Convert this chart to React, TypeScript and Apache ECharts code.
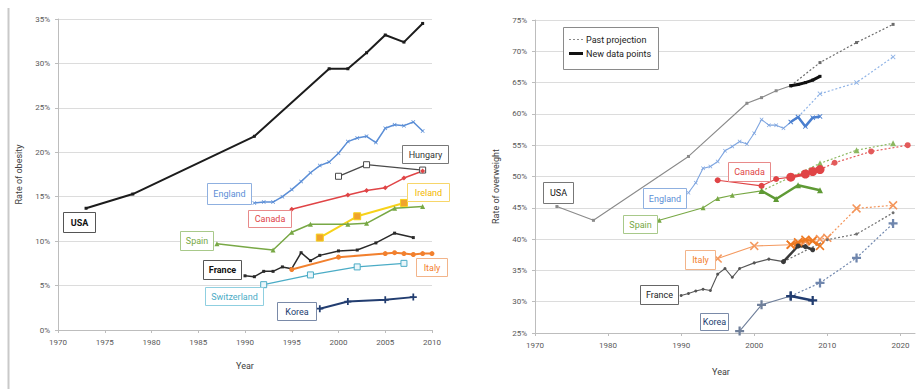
import React, { useEffect, useRef } from "react";
import * as echarts from "echarts";

// ---- Rate of obesity (left panel), [year, %] ----
const usaObesity = [[1973, 13.7], [1978, 15.3], [1991, 21.8], [1999, 29.4], [2001, 29.4], [2003, 31.2], [2005, 33.2], [2007, 32.4], [2009, 34.5]];
const englandObesity = [[1991, 14.3], [1992, 14.4], [1993, 14.4], [1994, 15.0], [1995, 15.8], [1996, 16.7], [1997, 17.7], [1998, 18.5], [1999, 18.9], [2000, 19.9], [2001, 21.2], [2002, 21.6], [2003, 21.8], [2004, 21.1], [2005, 22.7], [2006, 23.1], [2007, 23.0], [2008, 23.4], [2009, 22.4]];
const hungaryObesity = [[2000, 17.3], [2003, 18.6], [2009, 18.0]];
const canadaObesity = [[1995, 13.6], [2001, 15.2], [2003, 15.7], [2005, 16.0], [2007, 17.1], [2009, 17.9]];
const irelandObesity = [[1998, 10.4], [2002, 12.8], [2007, 14.3]];
const spainObesity = [[1987, 9.7], [1993, 9.0], [1995, 11.0], [1997, 11.9], [2001, 11.9], [2003, 12.0], [2006, 13.7], [2009, 13.9]];
const franceObesity = [[1990, 6.1], [1991, 6.0], [1992, 6.6], [1993, 6.6], [1994, 7.1], [1995, 6.9], [1996, 8.7], [1997, 7.8], [1998, 8.4], [2000, 8.9], [2002, 9.0], [2004, 9.8], [2006, 10.9], [2008, 10.4]];
const italyObesity = [[1995, 6.8], [2000, 8.2], [2005, 8.6], [2006, 8.7], [2007, 8.6], [2008, 8.5], [2009, 8.6], [2010, 8.6]];
const switzerlandObesity = [[1992, 5.1], [1997, 6.2], [2002, 7.1], [2007, 7.5]];
const koreaObesity = [[1998, 2.4], [2001, 3.2], [2005, 3.4], [2008, 3.7]];

// ---- Rate of overweight (right panel): history, new data points, past projection ----
const usaOverweight = [[1973, 45.2], [1978, 43.0], [1991, 53.2], [1999, 61.7], [2001, 62.6], [2003, 63.7], [2005, 64.5]];
const usaOverweightNew = [[2005, 64.5], [2006, 64.7], [2007, 65.0], [2008, 65.4], [2009, 66.0]];
const usaOverweightProj = [[2005, 64.5], [2009, 68.2], [2014, 71.4], [2019, 74.3]];

const englandOverweight = [[1991, 47.4], [1992, 49.0], [1993, 51.3], [1994, 51.6], [1995, 52.4], [1996, 54.1], [1997, 54.8], [1998, 55.6], [1999, 55.2], [2000, 56.9], [2001, 59.1], [2002, 58.2], [2003, 58.2], [2004, 57.7], [2005, 58.7]];
const englandOverweightNew = [[2005, 58.7], [2006, 59.5], [2007, 58.0], [2008, 59.4], [2009, 59.6]];
const englandOverweightProj = [[2006, 59.5], [2009, 63.2], [2014, 65.0], [2019, 69.1]];

const canadaOverweight = [[1995, 49.4], [2001, 48.5], [2003, 49.6], [2005, 49.9]];
const canadaOverweightNew = [[2005, 49.9], [2007, 50.4], [2008, 50.8], [2009, 51.1]];
const canadaOverweightProj = [[2009, 51.1], [2011, 52.2], [2016, 54.0], [2021, 55.0]];

const spainOverweight = [[1987, 43.0], [1993, 45.0], [1995, 46.5], [1997, 47.0], [2001, 47.7]];
const spainOverweightNew = [[2001, 47.7], [2003, 46.4], [2006, 48.6], [2009, 47.8]];
const spainOverweightProj = [[2001, 47.7], [2009, 52.1], [2014, 54.2], [2019, 55.3]];

const italyOverweight = [[1995, 36.9], [2000, 38.9], [2005, 39.1]];
const italyOverweightNew = [[2005, 39.1], [2006, 39.5], [2007, 39.9], [2008, 39.7], [2009, 38.9]];
const italyOverweightProj = [[2005, 39.1], [2006, 39.3], [2007, 39.6], [2008, 39.8], [2009, 40.0], [2010, 40.2], [2014, 44.9], [2019, 45.4]];

const franceOverweight = [[1990, 31.0], [1991, 31.3], [1992, 31.7], [1993, 32.0], [1994, 31.8], [1995, 34.4], [1996, 35.3], [1997, 33.9], [1998, 35.3], [2000, 36.2], [2002, 36.8], [2004, 36.4]];
const franceOverweightNew = [[2004, 36.4], [2006, 38.9], [2007, 38.8], [2008, 38.3]];
const franceOverweightProj = [[2004, 36.4], [2010, 39.9], [2014, 40.8], [2019, 44.2]];

const koreaOverweight = [[1998, 25.3], [2001, 29.5], [2005, 30.9]];
const koreaOverweightNew = [[2005, 30.9], [2008, 30.2]];
const koreaOverweightProj = [[2005, 30.9], [2009, 33.0], [2014, 37.0], [2019, 42.5]];

// ---- Axis ticks ----
const overweightYears = [1970, 1980, 1990, 2000, 2010, 2020];

const FONT = "Roboto, 'Liberation Sans', sans-serif";
const PLUS = "path://M3,0H5V3H8V5H5V8H3V5H0V3H3Z";
const CROSS = "path://M0,1L1,0L4,3L7,0L8,1L5,4L8,7L7,8L4,5L1,8L0,7L3,4Z";

const C = {
  usa: "#1c1c1c",
  usaGray: "#8a8a8a",
  england: "#5b8ed6",
  hungary: "#4a4a4a",
  canada: "#e04446",
  ireland: "#f7d21a",
  irelandMark: "#f0a32c",
  spain: "#78a845",
  france: "#2a2a2a",
  italy: "#f2802e",
  swiss: "#4bacc6",
  korea: "#223d70",
};

type Opt = {
  width?: number;
  symbol?: string;
  size?: number;
  fill?: string;
  dash?: any;
  z?: number;
};

function line(data: number[][], grid: number, color: string, o: Opt = {}) {
  return {
    type: "line",
    xAxisIndex: grid,
    yAxisIndex: grid,
    data,
    showSymbol: o.symbol !== "none",
    symbol: o.symbol || "circle",
    symbolSize: o.size ?? 3,
    itemStyle: { color: o.fill || color, borderColor: color, borderWidth: o.fill ? 1 : 0 },
    lineStyle: { color, width: o.width ?? 1.5, type: o.dash || "solid" },
    z: o.z ?? 3,
    silent: true,
  };
}

// annotation boxes: [text, left, top, width, height, text colour, border colour, bold]
const leftLabels: any[] = [
  ["USA", 63, 212, 32, 20, "#111", "#555", true],
  ["England", 207, 183, 44, 21, C.england, "#8fb0e0", false],
  ["Hungary", 402, 145, 46, 18, "#333", "#777", false],
  ["Canada", 248, 210, 43, 17, C.canada, "#e88a8a", false],
  ["Ireland", 407, 183, 42, 18, "#f2b600", "#f7d66a", false],
  ["Spain", 180, 231, 33, 19, C.spain, "#a8c98a", false],
  ["France", 203, 260, 38, 19, "#111", "#555", true],
  ["Italy", 416, 258, 31, 18, C.italy, "#f2b48a", false],
  ["Switzerland", 205, 287, 58, 18, C.swiss, "#8fcfe0", false],
  ["Korea", 277, 302, 39, 18, C.korea, "#7a8aa8", false],
];
const rightLabels: any[] = [
  ["USA", 543, 182, 30, 21, "#111", "#777", false],
  ["England", 643, 188, 43, 20, C.england, "#8fb0e0", false],
  ["Spain", 623, 215, 34, 18, C.spain, "#a8c98a", false],
  ["Canada", 728, 162, 42, 19, C.canada, "#e88a8a", false],
  ["Italy", 685, 250, 30, 19, C.italy, "#f2b48a", false],
  ["France", 640, 285, 38, 19, "#222", "#666", false],
  ["Korea", 700, 313, 28, 17, C.korea, "#7a8aa8", false],
];

function labelGraphics(list: any[]) {
  const out: any[] = [];
  list.forEach(([text, x, y, w, h, color, border, bold]) => {
    out.push({
      type: "rect",
      shape: { x: x + 0.5, y: y + 0.5, width: w, height: h },
      style: { fill: "#fff", stroke: border, lineWidth: 1 },
      z: 100,
      silent: true,
    });
    out.push({
      type: "text",
      x: x + w / 2 + 0.5,
      y: y + h / 2 + 0.5,
      style: {
        text,
        fill: color,
        fontSize: 9,
        fontFamily: FONT,
        fontWeight: bold ? "bold" : "normal",
        align: "center",
        verticalAlign: "middle",
      },
      z: 101,
      silent: true,
    });
  });
  return out;
}

const yearLabel = (v: number) => String(v);

function axisCommon() {
  return {
    axisLine: { show: true, lineStyle: { color: "#bdbdbd", width: 1 } },
    axisTick: { show: true, length: 3, lineStyle: { color: "#bdbdbd" } },
    axisLabel: { color: "#595959", fontSize: 8, fontFamily: FONT, margin: 8 },
    nameTextStyle: { color: "#404040", fontSize: 9, fontFamily: FONT },
  };
}

export default function App() {
  const ref = useRef<HTMLDivElement>(null);

  useEffect(() => {
    document.body.style.margin = "0";
    if (!ref.current) return;
    const chart = echarts.init(ref.current, null, { renderer: "svg" });

    const proj = (data: number[][], color: string, symbol: string, size: number) =>
      line(data, 1, color, { width: 1.2, dash: [2, 2], symbol, size, z: 2 });

    const option: any = {
      animation: false,
      backgroundColor: "#fff",
      grid: [
        { left: 58, top: 19, width: 374, height: 311 },
        { left: 535, top: 20, width: 380, height: 313 },
      ],
      xAxis: [
        {
          ...axisCommon(),
          gridIndex: 0,
          type: "value",
          min: 1970,
          max: 2010,
          interval: 5,
          axisLabel: { ...axisCommon().axisLabel, formatter: yearLabel },
          splitLine: { show: false },
          name: "Year",
          nameLocation: "middle",
          nameGap: 31,
        },
        {
          ...axisCommon(),
          gridIndex: 1,
          type: "value",
          min: 1970,
          max: 2022,
          interval: 10,
          axisTick: { show: true, length: 3, lineStyle: { color: "#bdbdbd" }, customValues: overweightYears },
          axisLabel: { ...axisCommon().axisLabel, customValues: overweightYears, formatter: yearLabel },
          splitLine: { show: false },
          name: "Year",
          nameLocation: "middle",
          nameGap: 34,
          nameTextStyle: { ...axisCommon().nameTextStyle, padding: [0, 0, 0, -8] },
        },
      ],
      yAxis: [
        {
          ...axisCommon(),
          gridIndex: 0,
          type: "value",
          min: 0,
          max: 35,
          interval: 5,
          axisLabel: { ...axisCommon().axisLabel, formatter: "{value}%" },
          splitLine: { show: true, lineStyle: { color: "#dcdcdc" } },
          name: "Rate of obesity",
          nameLocation: "middle",
          nameGap: 35,
        },
        {
          ...axisCommon(),
          gridIndex: 1,
          type: "value",
          min: 25,
          max: 75,
          interval: 5,
          axisLabel: { ...axisCommon().axisLabel, formatter: "{value}%" },
          splitLine: { show: true, lineStyle: { color: "#dcdcdc" } },
          name: "Rate of overweight",
          nameLocation: "middle",
          nameGap: 35,
          nameTextStyle: { ...axisCommon().nameTextStyle, padding: [0, 0, 0, -20] },
        },
      ],
      series: [
        // obesity
        line(usaObesity, 0, C.usa, { width: 2, symbol: "rect", size: 3 }),
        line(englandObesity, 0, C.england, { width: 1.5, symbol: CROSS, size: 4 }),
        line(hungaryObesity, 0, C.hungary, { width: 1.3, symbol: "rect", size: 6, fill: "#fff" }),
        line(canadaObesity, 0, C.canada, { width: 1.5, symbol: "diamond", size: 5 }),
        line(irelandObesity, 0, C.ireland, { width: 2, symbol: "rect", size: 7, fill: C.irelandMark }),
        line(spainObesity, 0, C.spain, { width: 1.5, symbol: "triangle", size: 5 }),
        line(franceObesity, 0, C.france, { width: 1.5, symbol: "rect", size: 3 }),
        line(italyObesity, 0, C.italy, { width: 2, symbol: "circle", size: 5 }),
        line(switzerlandObesity, 0, C.swiss, { width: 1.3, symbol: "rect", size: 6, fill: "#eaf6fa" }),
        line(koreaObesity, 0, C.korea, { width: 2, symbol: PLUS, size: 7 }),

        // overweight: past projections (dotted)
        proj(usaOverweightProj, "#6b6b6b", "rect", 3),
        proj(englandOverweightProj, "#8fb3e6", CROSS, 5),
        proj(canadaOverweightProj, "#e35a5a", "circle", 6),
        proj(spainOverweightProj, "#8cb860", "triangle", 6),
        proj(italyOverweightProj, "#f4955a", CROSS, 9),
        proj(franceOverweightProj, "#707070", "circle", 3),
        proj(koreaOverweightProj, "#6f86ad", PLUS, 9),

        // overweight: historical series (thin)
        line(usaOverweight, 1, C.usaGray, { width: 1.1, symbol: "rect", size: 3 }),
        line(englandOverweight, 1, "#7ea5e0", { width: 1.1, symbol: CROSS, size: 4 }),
        line(canadaOverweight, 1, C.canada, { width: 1.1, symbol: "circle", size: 6 }),
        line(spainOverweight, 1, C.spain, { width: 1.1, symbol: "triangle", size: 5 }),
        line(italyOverweight, 1, "#f49a60", { width: 1.1, symbol: CROSS, size: 9 }),
        line(franceOverweight, 1, "#555", { width: 1.1, symbol: "circle", size: 3 }),
        line(koreaOverweight, 1, "#6f7f9a", { width: 1.1, symbol: PLUS, size: 9 }),

        // overweight: new data points (thick)
        line(usaOverweightNew, 1, "#111", { width: 3, symbol: "rect", size: 3, z: 5 }),
        line(englandOverweightNew, 1, "#4a7fcf", { width: 2.5, symbol: CROSS, size: 5, z: 5 }),
        line(canadaOverweightNew, 1, C.canada, { width: 3, symbol: "circle", size: 9, z: 5 }),
        line(spainOverweightNew, 1, "#5f9a35", { width: 2.5, symbol: "triangle", size: 6, z: 5 }),
        line(italyOverweightNew, 1, "#ee7a22", { width: 2.5, symbol: CROSS, size: 9, z: 5 }),
        line(franceOverweightNew, 1, "#3a3a3a", { width: 2.5, symbol: "circle", size: 5, z: 5 }),
        line(koreaOverweightNew, 1, C.korea, { width: 2.5, symbol: PLUS, size: 9, z: 5 }),
      ],
      graphic: [
        // panel frame line on the far left
        { type: "line", shape: { x1: 8.5, y1: 8, x2: 8.5, y2: 389 }, style: { stroke: "#c9c9c9", lineWidth: 2 }, silent: true },
        ...labelGraphics(leftLabels),
        ...labelGraphics(rightLabels),
        // legend
        { type: "rect", shape: { x: 563.5, y: 27.5, width: 95, height: 42 }, style: { fill: "#fff", stroke: "#8a8a8a", lineWidth: 1 }, z: 100, silent: true },
        { type: "line", shape: { x1: 569, y1: 39.5, x2: 583, y2: 39.5 }, style: { stroke: "#8a8a8a", lineWidth: 1.2, lineDash: [2, 2] }, z: 101, silent: true },
        { type: "line", shape: { x1: 569, y1: 53.5, x2: 583, y2: 53.5 }, style: { stroke: "#111", lineWidth: 3 }, z: 101, silent: true },
        { type: "text", x: 586, y: 39.5, style: { text: "Past projection", fill: "#222", fontSize: 9, fontFamily: FONT, verticalAlign: "middle" }, z: 101, silent: true },
        { type: "text", x: 586, y: 53.5, style: { text: "New data points", fill: "#222", fontSize: 9, fontFamily: FONT, verticalAlign: "middle" }, z: 101, silent: true },
      ],
    };

    chart.setOption(option);
    return () => chart.dispose();
  }, []);

  return <div ref={ref} style={{ width: 916, height: 389 }} />;
}
